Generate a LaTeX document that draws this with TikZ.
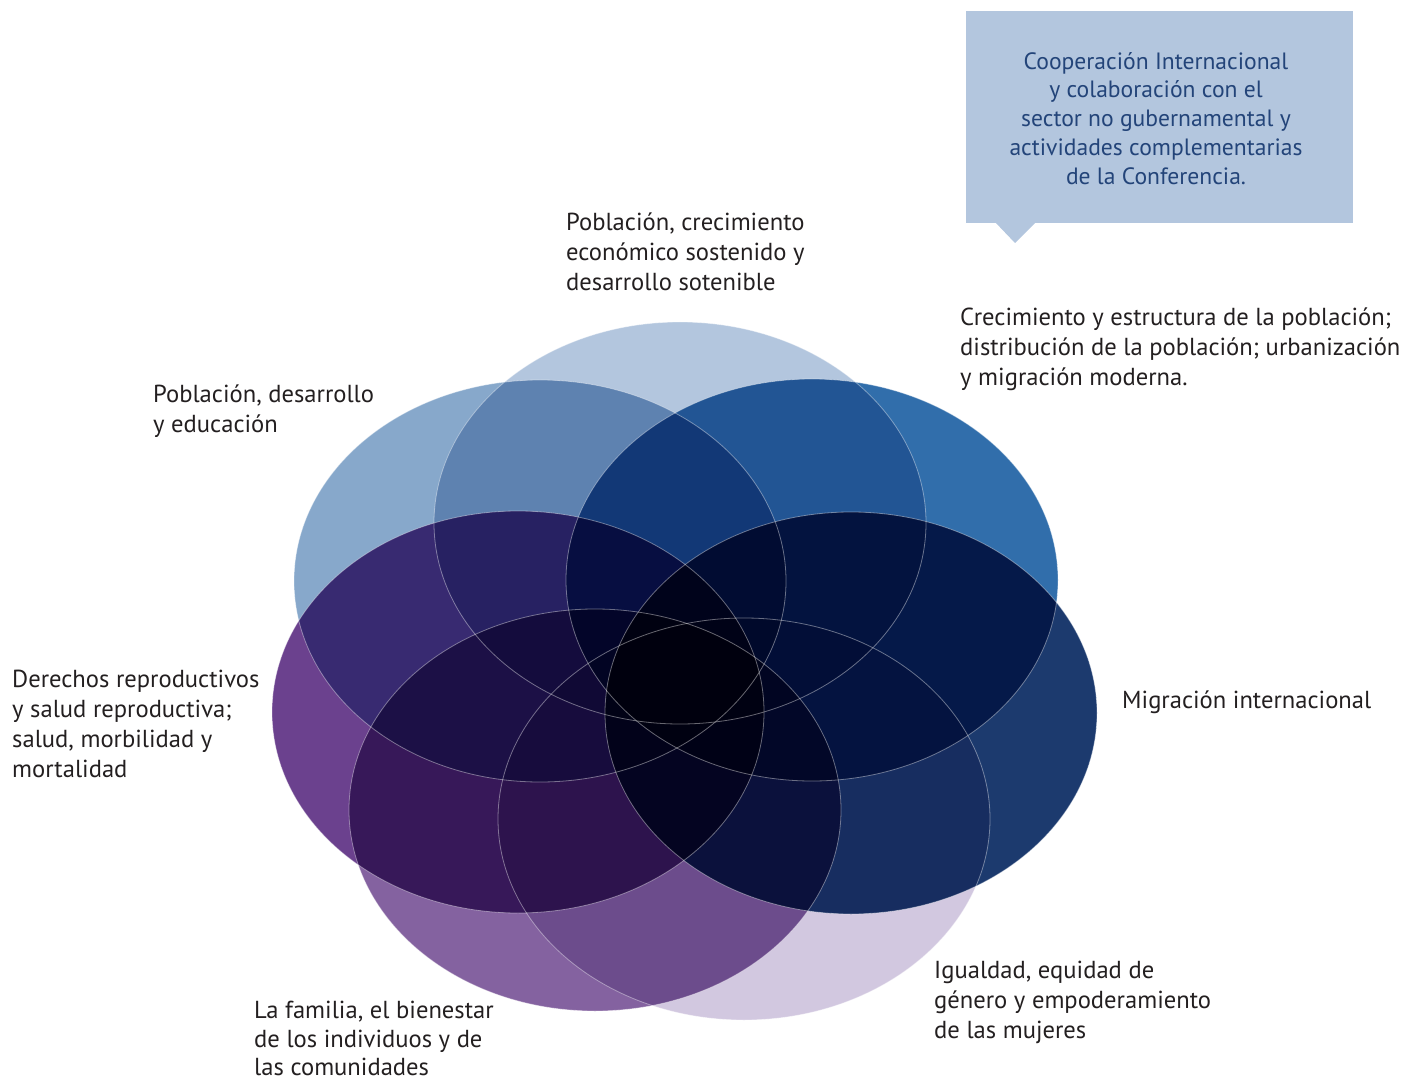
\documentclass[tikz,border=0pt]{standalone}
\usepackage{fontspec}
\setmainfont{PT Sans}
\definecolor{cTop}{HTML}{B3C6DE}
\definecolor{cUL}{HTML}{87A8CB}
\definecolor{cUR}{HTML}{316EAB}
\definecolor{cR}{HTML}{1C3A6E}
\definecolor{cLR}{HTML}{D2C8E0}
\definecolor{cLL}{HTML}{8462A0}
\definecolor{cL}{HTML}{6B418E}
\definecolor{labelgray}{HTML}{231F20}
\definecolor{callouttext}{HTML}{234479}
\begin{document}
\begin{tikzpicture}[x=1pt,y=-1pt,
  lbl/.style={anchor=north west, inner sep=0pt, align=left, text=labelgray,
    font=\fontsize{24.6}{29.7}\selectfont},
  ring/.style={draw=white, draw opacity=0.4, line width=0.8pt},
  venn/.style={x radius=246pt, y radius=201pt}]
\useasboundingbox (0,0) rectangle (1401,1083);

% callout
\fill[cTop] (966,11) rectangle (1353,223);
\fill[cTop] (995,222) -- (1036,222) -- (1015,243) -- cycle;
\node[anchor=north, inner sep=0pt, align=center, text=callouttext,
  font=\fontsize{23.6}{28.7}\selectfont] (callout) at (1156,49)
  {\strut Cooperación Internacional\\y colaboración con el\\sector no gubernamental y\\actividades complementarias\\de la Conferencia.};

% ellipses (multiply blend)
\begin{scope}[blend mode=multiply]
  \fill[cTop] (680,523) ellipse [venn];
  \fill[cUL]  (540,581) ellipse [venn];
  \fill[cUR]  (812,580) ellipse [venn];
  \fill[cR]   (851,713) ellipse [venn];
  \fill[cLR]  (744,819) ellipse [venn];
  \fill[cLL]  (595,810) ellipse [venn];
  \fill[cL]   (518,712) ellipse [venn];
\end{scope}
\draw[ring] (680,523) ellipse [venn];
\draw[ring] (540,581) ellipse [venn];
\draw[ring] (812,580) ellipse [venn];
\draw[ring] (851,713) ellipse [venn];
\draw[ring] (744,819) ellipse [venn];
\draw[ring] (595,810) ellipse [venn];
\draw[ring] (518,712) ellipse [venn];

% labels
\node[lbl] (ltop) at (566,210) {\strut Población, crecimiento\\económico sostenido y\\desarrollo sotenible};
\node[lbl] (lul) at (153,382) {\strut Población, desarrollo\\y educación};
\node[lbl] (lur) at (960,305) {\strut Crecimiento y estructura de la población;\\distribución de la población; urbanización\\y migración moderna.};
\node[lbl] (lr) at (1122,688) {\strut Migración internacional};
\node[lbl] (ll) at (12,667) {\strut Derechos reproductivos\\y salud reproductiva;\\salud, morbilidad y\\mortalidad};
\node[lbl, font=\fontsize{24.6}{28.8}\selectfont] (lll) at (254,998) {\strut La familia, el bienestar\\de los individuos y de\\las comunidades};
\node[lbl] (llr) at (934,958) {\strut Igualdad, equidad de\\género y empoderamiento\\de las mujeres};
\end{tikzpicture}
\end{document}
